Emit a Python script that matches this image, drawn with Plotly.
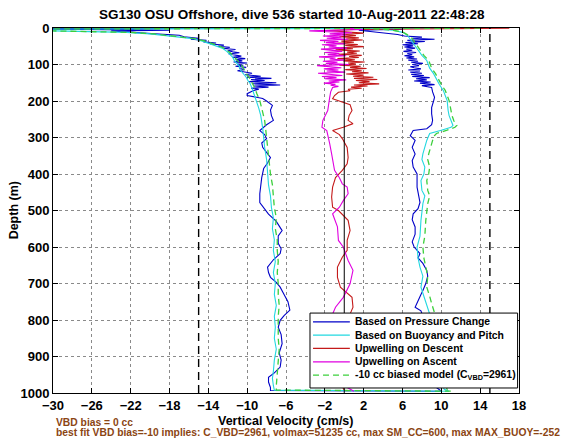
import plotly.graph_objects as go

# ---------------- text ----------------
title_text = "SG130 OSU Offshore, dive 536 started 10-Aug-2011 22:48:28"
x_title = "Vertical Velocity (cm/s)"
y_title = "Depth (m)"
note_lines = [
    "VBD bias = 0 cc",
    "best fit VBD bias=-10 implies: C_VBD=2961, volmax=51235 cc, max SM_CC=600, max MAX_BUOY=-252",
]
series_names = [
    "Based on Pressure Change",
    "Based on Buoyancy and Pitch",
    "Upwelling on Descent",
    "Upwelling on Ascent",
    "-10 cc biased model (C<sub>VBD</sub>=2961)",
]
series_colors = ["#0000c8", "#22d8e0", "#c41a1a", "#e000e0", "#3ccf3c"]

x_ticks = [-30, -26, -22, -18, -14, -10, -6, -2, 2, 6, 10, 14, 18]
y_ticks = [0, 100, 200, 300, 400, 500, 600, 700, 800, 900, 1000]
x_range = [-30, 18]
y_range = [1000, 0]
ref_solid_x = [0]
ref_dashed_x = [-15, 15]

# ---------------- data ----------------
# Based on Pressure Change (descent then ascent)
press_depth = [0.5, 2, 5, 6, 8, 12, 16, 20, 24, 28, 31, 34, 38, 41, 44, 47, 50, 53, 56, 59,
               62, 65, 68, 71, 74, 77, 80, 84, 87, 90, 93, 96, 99, 102, 105, 108, 111, 114, 117, 120,
               124, 128, 132, 135, 138, 141, 144, 147, 150, 153, 156, 159, 162, 165, 168, 172, 176, 180, 185, 193,
               200, 212, 225, 240, 253, 265, 281, 292, 303, 315, 327, 340, 355, 370, 385, 410, 430, 454, 478, 495,
               510, 530, 555, 570, 590, 605, 618, 635, 655, 670, 683, 697, 710, 730, 750, 773, 788, 801, 820, 840,
               865, 890, 910, 929, 945, 957, 970, 985, 993,
               995, 985, 960, 930, 900, 870, 840, 810, 790, 775, 765, 745, 730, 719, 700, 680, 664, 645, 630, 618,
               600, 586, 565, 545, 525, 509, 495, 478, 455, 436, 418, 400, 381, 363, 345, 327, 308, 295, 281, 276,
               265, 253, 235, 218, 200, 190, 175, 163, 158, 155, 151, 148, 145, 142, 139, 136, 133, 130, 127, 124,
               121, 118, 115, 112, 109, 106, 103, 100, 97, 94, 91, 88, 85, 82, 79, 76, 73, 70, 67, 64,
               61, 58, 55, 52, 49, 46, 43, 40, 37, 34, 31, 28, 25, 22, 18, 14, 10, 6, 3, 1]
press_vel = [5, -34, -22, -18, -24, -21, -19.5, -17, -16.5, -15, -15.8, -14.2, -14.5, -13.2, -13.8, -12.4, -13, -11.8, -12.4, -11.2,
             -12, -11.5, -10.8, -11.9, -11, -10.6, -11.5, -10.2, -11.2, -10.5, -11.4, -10, -11, -10.4, -11.2, -10.1, -10.8, -10.3, -11, -10.4,
             -9.5, -10.2, -8.6, -10, -7.5, -9.6, -8.2, -9.8, -7.0, -9.4, -6.6, -9.3, -7.8, -9.6, -8.8, -9.4, -9.8, -10.0, -10.0, -8.4,
             -8.0, -7.4, -7.6, -7.5, -7.3, -8.0, -8.7, -8.2, -8.0, -8.5, -8.4, -8.0, -7.6, -7.9, -8.3, -8.5, -8.6, -8.7, -8.7, -8.2,
             -7.8, -7.0, -6.4, -6.8, -6.8, -6.5, -6.6, -7.3, -7.9, -7.8, -7.6, -7.0, -6.6, -6.2, -5.8, -5.6, -6.2, -6.6, -6.8, -6.5,
             -6.4, -6.7, -6.5, -6.6, -7.2, -7.8, -7.8, -7.6, -7.6,
             10.0, 9.5, 8.8, 8.2, 8.0, 7.6, 7.8, 7.5, 8.1, 7.9, 7.3, 7.6, 7.9, 8.1, 8.4, 8.6, 8.5, 8.1, 7.6, 7.8,
             7.2, 7.0, 7.3, 7.3, 7.0, 7.1, 7.6, 7.8, 7.6, 7.5, 7.5, 7.5, 7.1, 7.0, 7.3, 7.0, 7.3, 6.8, 7.1, 8.5,
             9.0, 9.1, 9.0, 9.0, 9.2, 9.3, 9.1, 9.0, 8.0, 9.3, 7.8, 8.9, 7.2, 8.5, 7.4, 8.8, 7.0, 8.2, 6.9, 8.0,
             6.8, 7.8, 6.6, 7.9, 7.2, 6.8, 7.7, 7.0, 8.1, 6.9, 7.6, 6.6, 7.5, 6.4, 7.2, 6.2, 7.0, 6.5, 7.4, 6.1,
             7.0, 6.4, 7.3, 6.2, 7.1, 6.0, 7.6, 6.3, 8.3, 6.5, 9.3, 7.0, 8.0, 6.2, 5.5, 4.0, 3.2, 1.5, 6.0, 4.0]

# Based on Buoyancy and Pitch
buoy_depth = [0.5, 3, 8, 12, 16, 21, 29, 36, 43, 50, 56, 64, 71, 80, 90, 97, 105, 115, 125, 135,
              145, 152, 165, 180, 199, 220, 240, 253, 275, 300, 327, 360, 400, 430, 460, 492, 520, 550, 580, 610,
              640, 670, 700, 730, 760, 790, 820, 850, 880, 910, 940, 960, 980, 992,
              995, 990, 960, 920, 880, 840, 800, 765, 755, 735, 710, 680, 655, 630, 600, 570, 527, 500, 481, 460,
              445, 418, 400, 381, 360, 345, 325, 308, 295, 289, 280, 272, 267, 255, 240, 226, 210, 199, 185, 171,
              155, 139, 125, 110, 89, 75, 60, 45, 29, 20, 12, 6, 2]
buoy_vel = [14, -38, -30, -22.4, -20, -18, -15.6, -14.6, -13.8, -13.1, -12.5, -12.1, -11.8, -11.5, -11.3, -11.1, -10.8, -10.7, -10.4, -10.1,
            -9.9, -9.7, -9.5, -9.3, -9.0, -8.8, -8.6, -8.5, -8.4, -8.3, -8.2, -8.0, -7.9, -7.8, -7.6, -7.5, -7.3, -7.4, -7.2, -7.3,
            -7.1, -7.3, -7.1, -7.2, -7.0, -7.2, -7.1, -7.2, -7.0, -7.2, -7.3, -7.4, -7.3, -7.2,
            10.8, 10.3, 9.8, 9.5, 9.3, 9.6, 9.0, 8.6, 8.5, 8.2, 7.9, 8.1, 7.8, 7.6, 7.5, 7.8, 7.9, 8.0, 8.1, 8.3,
            8.0, 7.9, 8.2, 8.3, 8.0, 8.1, 8.3, 8.5, 8.7, 8.8, 10.0, 11.0, 11.2, 11.0, 10.8, 10.7, 10.6, 10.6, 10.4, 10.2,
            9.8, 9.5, 9.2, 8.8, 8.5, 8.0, 7.6, 7.2, 6.8, 6.5, 6.0, 5.0, 3.0]

# -10 cc biased model
model_depth = buoy_depth
model_vel = [14, -38, -30, -22, -19.6, -17.7, -15.4, -14.3, -13.5, -12.8, -12.3, -11.9, -11.6, -11.3, -11.0, -10.8, -10.5, -10.3, -10.1, -9.8,
             -9.6, -9.4, -9.2, -9.0, -8.7, -8.5, -8.3, -8.2, -8.1, -8.0, -7.9, -7.7, -7.6, -7.4, -7.3, -7.2, -7.0, -7.1, -6.9, -6.9,
             -6.8, -6.9, -6.8, -6.8, -6.7, -6.8, -6.8, -6.8, -6.7, -6.8, -6.9, -7.0, -7.0, -7.0,
             11.0, 10.6, 10.2, 10.0, 9.8, 10.0, 9.5, 9.1, 9.0, 8.8, 8.5, 8.6, 8.4, 8.2, 8.1, 8.3, 8.4, 8.5, 8.6, 8.8,
             8.6, 8.5, 8.7, 8.8, 8.6, 8.7, 8.9, 9.1, 9.3, 9.5, 10.6, 11.4, 11.6, 11.3, 11.1, 11.0, 10.9, 10.8, 10.6, 10.4,
             10.0, 9.7, 9.4, 9.0, 8.7, 8.2, 7.8, 7.4, 7.0, 6.6, 6.1, 5.0, 3.0]

# Upwelling on Descent
updesc_depth = [0.5, 2, 4, 7, 10, 14, 18, 21, 24, 27, 30, 33, 36, 39, 42, 45, 48, 51, 54, 57,
                60, 63, 66, 69, 72, 75, 78, 81, 84, 87, 90, 93, 96, 99, 102, 105, 108, 111, 114, 117,
                120, 123, 126, 129, 132, 135, 138, 141, 144, 147, 150, 153, 156, 159, 162, 165, 168, 172, 176, 185,
                194, 204, 210, 226, 240, 253, 262, 272, 281, 292, 303, 327, 355, 372, 390, 410, 436, 463, 491, 500,
                527, 555, 582, 609, 628, 655, 683, 710, 738, 765, 790, 820, 850, 880, 910, 940, 970, 992]
updesc_vel = [17, 9, 1.0, -1.8, 0.2, 2.0, -0.2, 1.2, -0.5, 1.5, 0.2, 1.9, -0.3, 1.0, -0.8, 1.4, 0.1, 2.0, -0.4, 0.9,
              -0.9, 1.6, 0.3, 1.3, -0.6, 1.8, 0.5, 1.5, -0.7, 1.1, -0.1, 2.1, 0.4, 1.2, -0.5, 1.7, 0.6, 2.3, 0.1, 1.8,
              0.8, 2.5, 0.2, 2.0, 0.9, 3.0, 1.0, 3.4, 1.2, 2.6, 1.5, 3.6, 1.0, 2.4, 0.7, 1.8, 0.4, 0.6, -0.6, -1.0,
              -1.2, -0.1, 0.6, 0.8, 0.5, 0.4, 0.9, -0.1, -1.2, -0.5, -0.2, 0.3, 0.4, 0.3, -0.2, -0.9, -1.2, -1.3, -1.2, -0.6,
              0.4, 0.6, 0.3, 0.3, -0.2, -0.7, -0.7, -0.4, 0.8, 0.9, 0.5, -0.3, -0.8, -0.2, 0.5, 0.2, -0.5, 0.0]

# Upwelling on Ascent
upasc_depth = [1, 4, 8, 10, 13, 16, 19, 22, 25, 28, 31, 34, 37, 40, 43, 46, 49, 52, 55, 58,
               61, 64, 67, 70, 73, 76, 79, 82, 85, 88, 91, 94, 97, 100, 103, 106, 109, 112, 115, 118,
               121, 124, 127, 130, 133, 136, 139, 142, 145, 148, 151, 154, 157, 160, 163, 175, 190, 210, 226, 253,
               272, 281, 300, 317, 345, 363, 390, 410, 427, 436, 454, 473, 491, 509, 545, 582, 600, 637, 664, 701,
               738, 765, 790, 830, 870, 910, 950, 985, 995]
upasc_vel = [0.5, 2.0, -3.6, -2.0, 0.8, -1.5, 0.2, -2.2, -0.3, -1.8, 0.4, -2.5, -0.6, -1.9, 0.1, -2.3, -0.8, -1.6, 0.3, -2.4,
             -1.0, -0.2, -2.0, -0.5, -1.7, 0.2, -2.6, -0.9, -1.5, 0.0, -2.2, -0.7, -1.9, 0.5, -2.8, -1.0, -0.3, -2.1, -0.6, -1.8,
             0.1, -2.7, -1.1, -0.2, -2.3, -0.8, -2.0, 0.2, -1.6, -0.5, -2.1, -0.9, -1.4, -0.6, -1.2, -1.4, -1.5, -1.6, -1.7, -2.2,
             -2.3, -1.8, -1.6, -1.5, -1.3, -1.2, -1.0, -0.5, -0.2, 0.3, 0.4, -0.1, -0.5, -1.2, -0.7, -0.6, -0.1, 0.4, 0.9, 0.6,
             -0.1, -0.9, -1.3, -0.8, -0.3, 0.4, 0.8, 0.3, 1.0]

series_data = [
    (press_vel, press_depth),
    (buoy_vel, buoy_depth),
    (updesc_vel, updesc_depth),
    (upasc_vel, upasc_depth),
    (model_vel, model_depth),
]
series_dash = ["solid", "solid", "solid", "solid", "6px,4px"]

FONT = "Liberation Sans, Arial, Helvetica, sans-serif"
BROWN = "#8b4513"

fig = go.Figure()
for (xv, yv), name, col, dsh in zip(series_data, series_names, series_colors, series_dash):
    fig.add_trace(go.Scatter(x=xv, y=yv, mode="lines", name=name, showlegend=False,
                             line=dict(color=col, width=1.1 if dsh == "solid" else 1.3, dash=dsh)))

shapes = []
for xv in ref_solid_x:
    shapes.append(dict(type="line", xref="x", yref="paper", x0=xv, x1=xv, y0=0, y1=1,
                       line=dict(color="black", width=1), layer="above"))
for xv in ref_dashed_x:
    shapes.append(dict(type="line", xref="x", yref="paper", x0=xv, x1=xv, y0=0, y1=1,
                       line=dict(color="black", width=1.4, dash="8px,5px"), layer="above"))

# legend box (manual, MATLAB style)
L_x0, L_x1, L_y0, L_y1 = 0.5515, 0.997, 0.0137, 0.219
shapes.append(dict(type="rect", xref="paper", yref="paper", x0=L_x0, x1=L_x1, y0=L_y0, y1=L_y1,
                   fillcolor="white", line=dict(color="black", width=1), layer="above"))
annotations = []
row_top = 0.195
row_step = 0.0365
for i, (name, col, dsh) in enumerate(zip(series_names, series_colors, series_dash)):
    yy = row_top - i * row_step
    shapes.append(dict(type="line", xref="paper", yref="paper", x0=0.558, x1=0.637, y0=yy, y1=yy,
                       line=dict(color=col, width=1.3, dash=dsh), layer="above"))
    annotations.append(dict(text=name, xref="paper", yref="paper", x=0.643, y=yy, xanchor="left",
                            yanchor="middle", showarrow=False,
                            font=dict(family=FONT, size=10.4, color="black", weight="bold")))

annotations.append(dict(text=x_title, xref="paper", yref="paper", x=0.5, y=-0.077, xanchor="center",
                        yanchor="middle", showarrow=False,
                        font=dict(family=FONT, size=12.5, color="black", weight="bold")))
annotations.append(dict(text=y_title, xref="paper", yref="paper", x=-0.084, y=0.5, xanchor="center",
                        yanchor="middle", textangle=-90, showarrow=False,
                        font=dict(family=FONT, size=12.5, color="black", weight="bold")))
annotations.append(dict(text=note_lines[0], xref="paper", yref="paper", x=0.002, y=-0.082, xanchor="left",
                        yanchor="middle", showarrow=False,
                        font=dict(family=FONT, size=10.3, color=BROWN, weight="bold")))
annotations.append(dict(text=note_lines[1], xref="paper", yref="paper", x=0.002, y=-0.108, xanchor="left",
                        yanchor="middle", showarrow=False,
                        font=dict(family=FONT, size=10.3, color=BROWN, weight="bold")))

axis_common = dict(showline=True, linecolor="black", linewidth=1, mirror="ticks", ticks="inside",
                   ticklen=5, tickcolor="black", showgrid=True, gridcolor="#8a8a8a", gridwidth=1,
                   griddash="dot", zeroline=False,
                   tickfont=dict(family=FONT, size=13, color="black", weight="bold"))

# page body has an 8px margin: figure sized to fit the 570x440 window exactly
fig.update_layout(
    width=562, height=432,
    margin=dict(l=45, r=51, t=20, b=47),
    paper_bgcolor="white", plot_bgcolor="white",
    title=dict(text=title_text, x=0.505, xanchor="center", y=1 - 6.5 / 432, yanchor="middle",
               yref="container", font=dict(family=FONT, size=13.5, color="black", weight="bold")),
    xaxis=dict(range=x_range, tickvals=x_ticks, **axis_common),
    yaxis=dict(range=y_range, tickvals=y_ticks, **axis_common),
    shapes=shapes,
    annotations=annotations,
    showlegend=False,
)

fig.write_html("out.html")
